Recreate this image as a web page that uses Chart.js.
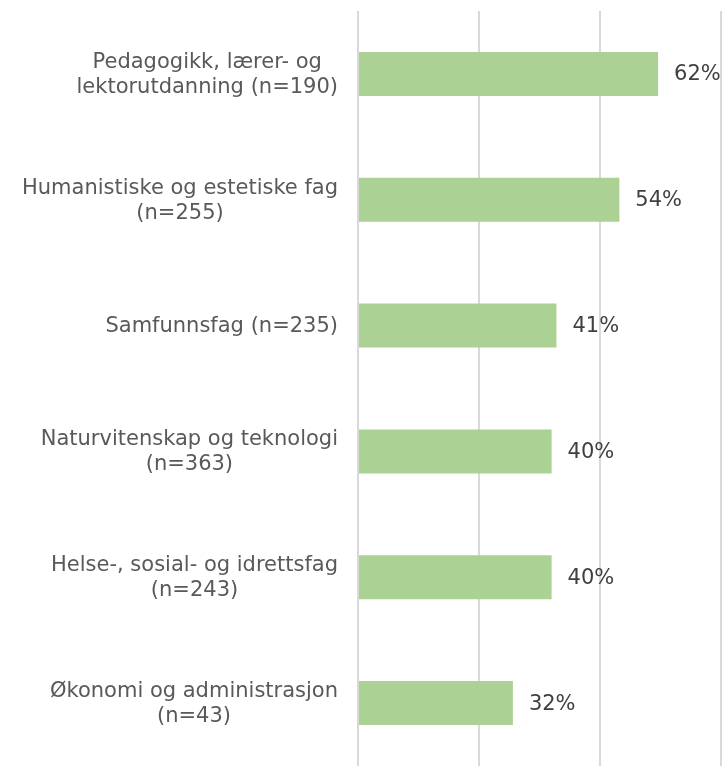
<!DOCTYPE html>
<html>
<head>
<meta charset="utf-8">
<script src="https://cdn.jsdelivr.net/npm/chart.js"></script>
<style>
  html, body { margin: 0; padding: 0; background: #fff; }
  #wrap { width: 728px; height: 766px; }
</style>
</head>
<body>
<div id="wrap"><canvas id="chart"></canvas></div>
<script>
// Categories (each entry = lines of the label)
const categories = [
  ['Pedagogikk, lærer- og ', 'lektorutdanning (n=190)'],
  ['Humanistiske og estetiske fag', '(n=255)'],
  ['Samfunnsfag (n=235)'],
  ['Naturvitenskap og teknologi', '(n=363)'],
  ['Helse-, sosial- og idrettsfag', '(n=243)'],
  ['Økonomi og administrasjon', '(n=43)']
];
const shares = [62, 54, 41, 40, 40, 32];
const gridSteps = [0, 25, 50, 75];

const FONT = '"DejaVu Sans", Verdana, sans-serif';
const FONT_SIZE = 21;

// category labels: block right-aligned next to the axis, lines centred inside the block
const categoryLabels = {
  id: 'categoryLabels',
  afterDraw(chart) {
    const ctx = chart.ctx;
    const y = chart.scales.y;
    const right = chart.chartArea.left - 20;
    const lineH = 25;
    ctx.save();
    ctx.font = FONT_SIZE + 'px ' + FONT;
    ctx.fillStyle = '#595959';
    ctx.textAlign = 'center';
    ctx.textBaseline = 'middle';
    categories.forEach((lines, i) => {
      const maxW = Math.max(...lines.map(l => ctx.measureText(l.trim()).width));
      const cx = right - maxW / 2;
      const cy = y.getPixelForValue(i) + 1;
      const top = cy - (lines.length - 1) * lineH / 2;
      lines.forEach((l, j) => ctx.fillText(l.trim(), cx, top + j * lineH));
    });
    ctx.restore();
  }
};

// percentage label after each bar
const valueLabels = {
  id: 'valueLabels',
  afterDatasetsDraw(chart) {
    const ctx = chart.ctx;
    const meta = chart.getDatasetMeta(0);
    ctx.save();
    ctx.font = FONT_SIZE + 'px ' + FONT;
    ctx.fillStyle = '#404040';
    ctx.textAlign = 'left';
    ctx.textBaseline = 'middle';
    meta.data.forEach((bar, i) => {
      ctx.fillText(shares[i] + '%', bar.x + 16, bar.y + 1);
    });
    ctx.restore();
  }
};

new Chart(document.getElementById('chart'), {
  type: 'bar',
  data: {
    labels: categories.map(c => c.join(' ')),
    datasets: [{
      data: shares,
      backgroundColor: '#abd194',
      borderWidth: 0,
      categoryPercentage: 1,
      barPercentage: 0.35
    }]
  },
  options: {
    indexAxis: 'y',
    responsive: true,
    maintainAspectRatio: false,
    animation: false,
    layout: { padding: { left: 358, right: 7, top: 11, bottom: 0 } },
    plugins: { legend: { display: false }, tooltip: { enabled: false } },
    scales: {
      x: {
        min: gridSteps[0],
        max: gridSteps[gridSteps.length - 1],
        afterBuildTicks(scale) { scale.ticks = gridSteps.map(v => ({ value: v })); },
        ticks: { display: false },
        grid: { color: '#d9d9d9', lineWidth: 2, drawTicks: false },
        border: { display: false }
      },
      y: {
        ticks: { display: false },
        grid: { display: false, drawTicks: false },
        border: { display: false }
      }
    }
  },
  plugins: [categoryLabels, valueLabels]
});
</script>
</body>
</html>
